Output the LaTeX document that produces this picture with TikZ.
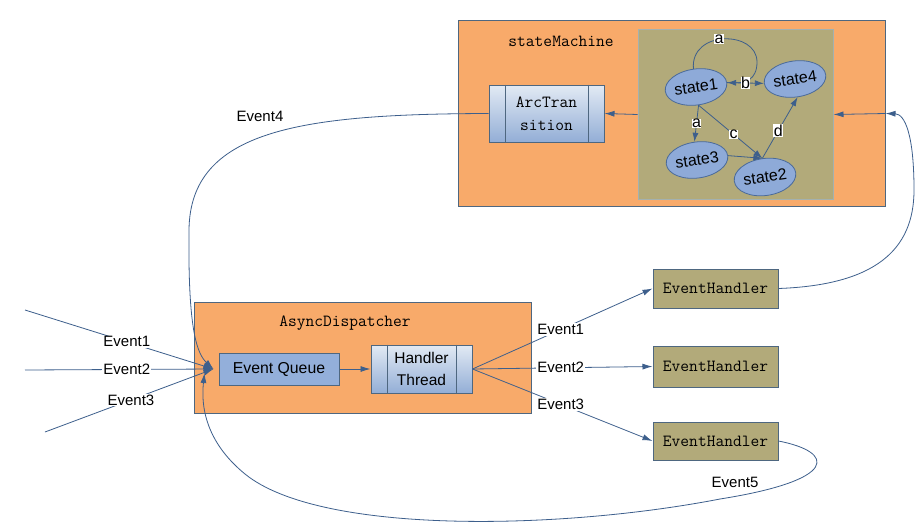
\documentclass[tikz,border=0pt]{standalone}
\usepackage{fontspec}
\setsansfont{Liberation Sans}
\usetikzlibrary{arrows.meta,shapes.geometric}
\definecolor{orangefill}{HTML}{F8AA6A}
\definecolor{olivefill}{HTML}{B2AA7A}
\definecolor{boxline}{HTML}{4E6780}
\definecolor{linec}{HTML}{3D5F8C}
\definecolor{ellfill}{HTML}{8EAAD8}
\definecolor{ellline}{HTML}{4A6A9A}
\definecolor{gradtop}{HTML}{E2EAF4}
\definecolor{gradbot}{HTML}{93AED6}
\definecolor{qfill}{HTML}{93AFDA}
\definecolor{innerline}{HTML}{A3B1B0}
\begin{document}
\begin{tikzpicture}[x=1pt,y=-1pt,
 sansf/.style={font=\fontsize{15}{18}\selectfont\sffamily},
 monof/.style={font=\fontsize{17}{23}\selectfont\ttfamily},
 container/.style={draw=boxline, fill=orangefill, line width=1pt, inner sep=0pt},
 olivebox/.style={draw=boxline, fill=olivefill, line width=1pt, inner sep=0pt, monof},
 procbox/.style={draw=boxline, line width=1pt, top color=gradtop, bottom color=gradbot, inner sep=0pt, align=center},
 queuebox/.style={draw=boxline, line width=1pt, fill=qfill, inner sep=0pt, font=\fontsize{15.8}{18}\selectfont\sffamily},
 conn/.style={draw=linec, line width=0.8pt, -{Latex[length=10pt,width=6pt]}},
 lbl/.style={sansf, fill=white, inner sep=1pt},
 txt/.style={sansf, inner sep=1pt},
 statenode/.style={ellipse, draw=ellline, fill=ellfill, line width=0.8pt, minimum width=62pt, minimum height=36pt, inner sep=0pt, rotate=8, font=\fontsize{16}{18}\selectfont\sffamily},
 sarr/.style={draw=linec, line width=0.8pt, -{Latex[length=9pt,width=6pt]}},
 slbl/.style={font=\fontsize{16}{18}\selectfont\sffamily, fill=white, inner sep=0.5pt},
 divider/.style={draw=boxline, line width=1pt},
]
\useasboundingbox (0,0) rectangle (923,527);
\fill[white] (0,0) rectangle (923,527);

% state machine container
\node[container, minimum width=427pt, minimum height=185pt] (sm) at (671.5,113.5) {};
\node[monof, inner sep=0pt] (smtitle) at (561,41) {stateMachine};
\node[draw=innerline, fill=olivefill, line width=1pt, minimum width=195pt, minimum height=169pt, inner sep=0pt] (inner) at (735.5,114.5) {};
\node[procbox, monof, minimum width=115pt, minimum height=57pt] (arc) at (546.5,113.5) {ArcTran\\sition};
\draw[divider] ([xshift=17pt]arc.north west) -- ([xshift=17pt]arc.south west);
\draw[divider] ([xshift=-16pt]arc.north east) -- ([xshift=-16pt]arc.south east);

% states
\node[statenode] (s1) at (696,87) {state1};
\node[statenode] (s4) at (795,79) {state4};
\node[statenode] (s3) at (697,160) {state3};
\node[statenode, minimum height=37pt] (s2) at (765,177) {state2};

\draw[sarr] (s1.north) .. controls (690,30) and (757,30) .. node[slbl, pos=0.45] (la) {a} (757,62) .. controls (757,80) and (745,83) .. (s1.east);
\draw[sarr] (s1.east) -- node[slbl] (lb) {b} (s4.west);
\draw[sarr] (s1.south) -- node[slbl] (la2) {a} (s3.north);
\draw[sarr] (s1.south) -- node[slbl, pos=0.55] (lc) {c} (s2.north);
\draw[sarr] (s3.east) -- (s2.north);
\draw[sarr] (s2.north) -- node[slbl, pos=0.45] (ld) {d} (s4.south);

\draw[conn] (inner.west) -- (arc.east);
\draw[conn] (sm.east) -- (inner.east);

% dispatcher
\node[container, minimum width=337pt, minimum height=111pt] (ad) at (362.5,357.5) {};
\node[monof, inner sep=0pt] (adtitle) at (345,323) {AsyncDispatcher};
\node[queuebox, minimum width=120pt, minimum height=32pt] (eq) at (279,369) {Event Queue};
\node[procbox, font=\fontsize{15.5}{22}\selectfont\sffamily, minimum width=101pt, minimum height=48pt] (ht) at (421.5,369) {Handler\\Thread};
\draw[divider] ([xshift=17pt]ht.north west) -- ([xshift=17pt]ht.south west);
\draw[divider] ([xshift=-16pt]ht.north east) -- ([xshift=-16pt]ht.south east);
\draw[conn] (eq.east) -- (ht.west);

% handlers
\node[olivebox, minimum width=125pt, minimum height=39pt] (eh1) at (715.5,288.5) {EventHandler};
\node[olivebox, minimum width=125pt, minimum height=41pt] (eh2) at (715.5,366.5) {EventHandler};
\node[olivebox, minimum width=125pt, minimum height=38pt] (eh3) at (715.5,441) {EventHandler};

\draw[conn] (ht.east) -- node[lbl, pos=0.49] (o1) {Event1} (eh1.west);
\draw[conn] (ht.east) -- node[lbl, pos=0.49] (o2) {Event2} (eh2.west);
\draw[conn] (ht.east) -- node[lbl, pos=0.49] (o3) {Event3} (eh3.west);

% incoming events
\coordinate (in1) at (25,310);
\coordinate (in2) at (25,370);
\coordinate (in3) at (45,432);
\coordinate (qin) at ([xshift=-5pt]eq.west);
\coordinate (qin5) at ([xshift=-14pt,yshift=-4pt]eq.west);
\draw[conn] (in1) -- node[lbl, pos=0.54] (i1) {Event1} (qin);
\draw[conn] (in2) -- node[lbl, pos=0.54] (i2) {Event2} (qin);
\draw[conn] (in3) -- node[lbl, pos=0.51] (i3) {Event3} (qin);

% Event4 loop
\draw[conn] (arc.west) .. controls (300,114) and (190,130) .. (189,230) .. controls (188,320) and (195,352) .. (qin);
\node[txt] (e4) at (260,116) {Event4};

% Event5 loop
\draw[conn] (eh3.east) .. controls (835,452) and (840,480) .. (720,499) .. controls (560,530) and (320,535) .. (245,474) .. controls (212,447) and (200,415) .. (qin5);
\node[txt] (e5) at (735,482) {Event5};

% handler1 back to state machine
\draw[conn] (eh1.east) .. controls (875,285) and (914,250) .. (914,190) .. controls (914,135) and (905,114) .. (sm.east);
\end{tikzpicture}
\end{document}
